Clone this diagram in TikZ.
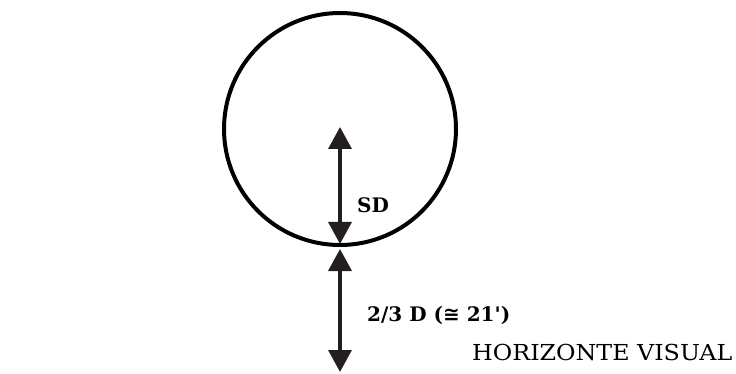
\documentclass[tikz,border=0pt]{standalone}
\usepackage{fontspec}
\setmainfont{DejaVu Serif}
\newfontfamily\symfont{DejaVu Sans}
\usetikzlibrary{arrows.meta}
\definecolor{ink}{HTML}{231F20}
\newcommand{\ddlabeltext}{2/3 D ({\symfont ≅} 21\textquotesingle)}
\newcommand{\hvlabeltext}{\scalebox{1.08}[1]{HORIZONTE VISUAL}}
\tikzset{
  dimarrow/.style={draw=ink, line width=3.6pt, {Triangle[length=22pt,width=23pt]}-{Triangle[length=22pt,width=23pt]}, fill=ink},
  boldlabel/.style={inner sep=0pt, anchor=base west, font=\fontsize{20}{23}\selectfont\bfseries},
  plainlabel/.style={inner sep=0pt, anchor=base west, font=\fontsize{22}{26}\selectfont}
}
\begin{document}
\begin{tikzpicture}[x=1pt,y=-1pt]
  \useasboundingbox (0,0) rectangle (736,374);
  \node[circle, draw=black, line width=4pt, inner sep=0pt, minimum size=232pt] (circ) at (340,129) {};
  \coordinate (top1) at (340,127);
  \coordinate (bot1) at (340,244);
  \coordinate (top2) at (340,249);
  \coordinate (bot2) at (340,372);
  \draw[dimarrow] (top1) -- (bot1);
  \draw[dimarrow] (top2) -- (bot2);
  \node[boldlabel] (sd) at (357,213) {SD};
  \node[boldlabel] (dd) at (367,321) {\ddlabeltext};
  \node[plainlabel] (hv) at (472,360) {\hvlabeltext};
\end{tikzpicture}
\end{document}
